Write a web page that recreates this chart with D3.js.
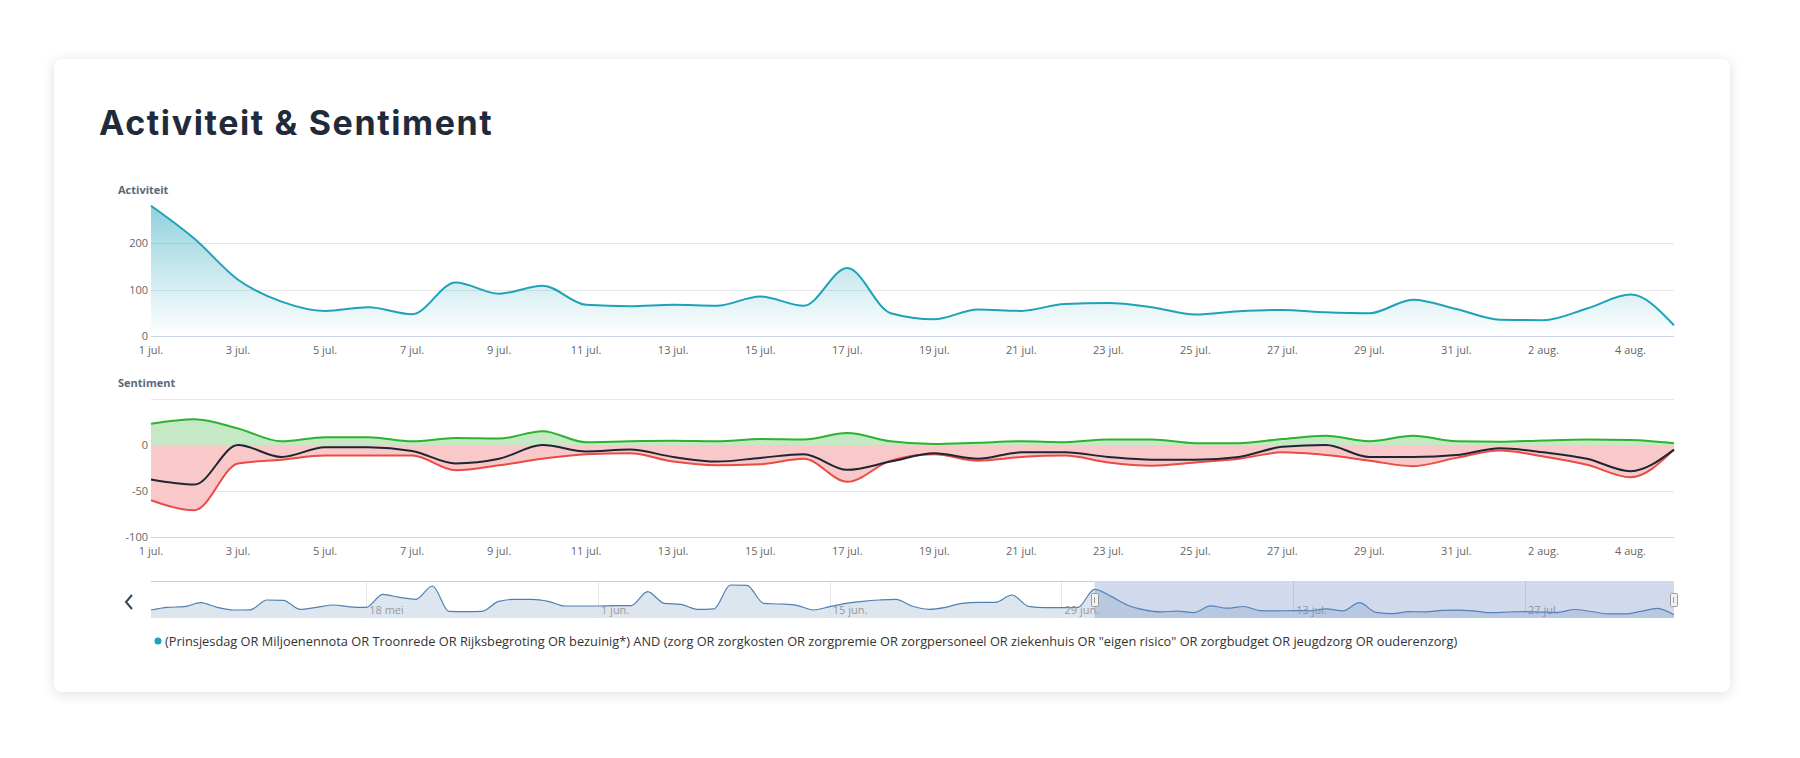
<!DOCTYPE html>
<html>
<head>
<meta charset="utf-8">
<script src="https://cdn.jsdelivr.net/npm/d3@7"></script>
<style>
  html, body { margin: 0; padding: 0; background: #fff; width: 1800px; height: 758px; overflow: hidden; }
  #card {
    position: absolute; left: 54px; top: 59px; width: 1676px; height: 633px;
    background: #fff; border-radius: 8px;
    box-shadow: 0 2px 14px rgba(0, 0, 0, 0.13);
  }
  #chart { position: absolute; left: 0; top: 0; }
</style>
</head>
<body>
<div id="card"></div>
<div id="chart"></div>
<script>
// ========== Data ==========
const startDate = "2020-07-01";          // first day in main charts
const navStartDate = "2020-05-05";       // first day in the navigator

// Activiteit, 1 jul. .. 5 aug.
const activity = [280, 209, 121, 74, 54, 62, 47, 115, 91, 108, 67, 64, 67, 65, 85, 65, 146, 49,
                  36, 57, 54, 69, 71, 62, 46, 53, 56, 51, 49, 78, 58, 35, 34, 59, 89, 23];

// Sentiment series, 1 jul. .. 5 aug.
const positive = [23, 28, 18, 4, 8.5, 8.5, 4, 7.5, 7, 15, 3, 4, 4.5, 4, 6.5, 6, 13, 4,
                  1, 2.5, 4, 3, 6, 6, 2, 2, 6.5, 10, 4, 10, 4, 3.5, 5, 6, 5.5, 2];
const negative = [-60, -71, -20, -16, -11.5, -11.5, -11.5, -27.5, -22, -15, -10, -9, -18, -22, -21, -15, -40, -17,
                  -10, -17, -13, -11.5, -19, -22.5, -19, -15, -8, -11, -17, -23, -14, -6, -12.5, -21.5, -35, -5];
const net = [-37.5, -43, 0, -13, -2.5, -2.5, -6.5, -20, -15, 0, -7, -5, -13, -18, -14, -10, -27, -18,
             -9, -15, -8, -8, -13, -16, -16, -13, -2, 0, -13, -13, -11, -3.5, -8, -15, -28.5, -5];

// Navigator history, 5 mei .. 30 jun. (activity continues after that)
const navHistory = [73, 100, 106, 146, 100, 73, 75, 173, 170, 80, 100, 123, 105, 100, 230, 200, 180, 313,
                    60, 56, 60, 160, 180, 180, 160, 113, 113, 113, 116, 116, 257, 140, 130, 80, 85, 323,
                    320, 140, 133, 120, 73, 106, 140, 160, 173, 180, 110, 80, 100, 140, 150, 150, 223,
                    110, 96, 96, 100];

const activityTicks = [0, 100, 200];
const sentimentTicks = [50, 0, -50, -100];
const sentimentLabels = ["", "0", "-50", "-100"];
const navTicks = ["2020-05-18", "2020-06-01", "2020-06-15", "2020-06-29", "2020-07-13", "2020-07-27"];
const monthsNl = ["jan.", "feb.", "mrt.", "apr.", "mei", "jun.", "jul.", "aug.", "sep.", "okt.", "nov.", "dec."];

const legendText = '(Prinsjesdag OR Miljoenennota OR Troonrede OR Rijksbegroting OR bezuinig*) AND (zorg OR zorgkosten OR zorgpremie OR zorgpersoneel OR ziekenhuis OR "eigen risico" OR zorgbudget OR jeugdzorg OR ouderenzorg)';

// ========== Helpers ==========
const parse = d3.utcParse("%Y-%m-%d");
const fmtNl = d => `${d.getUTCDate()} ${monthsNl[d.getUTCMonth()]}`;

const day0 = parse(startDate);
const days = activity.map((_, i) => d3.utcDay.offset(day0, i));
const navDay0 = parse(navStartDate);
const navValues = navHistory.concat(activity);
const navDays = navValues.map((_, i) => d3.utcDay.offset(navDay0, i));

// ========== Layout ==========
const W = 1800, H = 758;
const left = 151, right = 1674;

const svg = d3.select("#chart").append("svg")
    .attr("width", W).attr("height", H)
    .style("font-family", "'Open Sans', sans-serif");

const defs = svg.append("defs");
const grad = defs.append("linearGradient")
    .attr("id", "actGrad").attr("x1", 0).attr("y1", 0).attr("x2", 0).attr("y2", 1);
grad.append("stop").attr("offset", "0%").attr("stop-color", "#22a3ba").attr("stop-opacity", 0.5);
grad.append("stop").attr("offset", "100%").attr("stop-color", "#22a3ba").attr("stop-opacity", 0.0);

// Title
svg.append("text")
    .attr("x", 99).attr("y", 135)
    .attr("font-family", "Inter, 'Open Sans', sans-serif")
    .attr("font-weight", 700).attr("font-size", 34)
    .attr("letter-spacing", 1.6)
    .attr("fill", "#1f2b3a")
    .text("Activiteit & Sentiment");

const x = d3.scaleUtc()
    .domain([days[0], days[days.length - 1]])
    .range([left, right]);
const xTicks = d3.utcDay.range(days[0], d3.utcDay.offset(days[days.length - 1], 1), 2);

function drawXAxis(g, yPos) {
    g.append("line")
        .attr("x1", left).attr("x2", right)
        .attr("y1", yPos + 0.5).attr("y2", yPos + 0.5)
        .attr("stroke", "#ccd6eb");
    g.selectAll(".xl").data(xTicks).enter().append("text")
        .attr("x", d => x(d)).attr("y", yPos + 18)
        .attr("text-anchor", "middle")
        .attr("font-size", 11).attr("fill", "#666")
        .text(fmtNl);
}

// ========== Activiteit ==========
const yA = d3.scaleLinear().domain([0, 300]).range([336, 196.5]);
const gA = svg.append("g");

gA.append("text").attr("x", 118).attr("y", 194)
    .attr("font-size", 11).attr("font-weight", 700).attr("fill", "#5b6878")
    .text("Activiteit");

gA.selectAll(".grid").data(activityTicks.filter(t => t > 0)).enter().append("line")
    .attr("x1", left).attr("x2", right)
    .attr("y1", d => Math.round(yA(d)) + 0.5).attr("y2", d => Math.round(yA(d)) + 0.5)
    .attr("stroke", "#e6e6e6");
gA.selectAll(".yl").data(activityTicks).enter().append("text")
    .attr("x", 148).attr("y", d => yA(d) + 4)
    .attr("text-anchor", "end").attr("font-size", 11).attr("fill", "#666")
    .text(d => d);

gA.append("path").datum(activity)
    .attr("fill", "url(#actGrad)")
    .attr("d", d3.area().x((d, i) => x(days[i])).y0(yA(0)).y1(d => yA(d)).curve(d3.curveMonotoneX));
drawXAxis(gA, 336);
gA.append("path").datum(activity)
    .attr("fill", "none").attr("stroke", "#1fa2b8").attr("stroke-width", 2)
    .attr("d", d3.line().x((d, i) => x(days[i])).y(d => yA(d)).curve(d3.curveMonotoneX));

// ========== Sentiment ==========
const yS = d3.scaleLinear().domain([-100, 50]).range([537, 399]);
const gS = svg.append("g");

gS.append("text").attr("x", 118).attr("y", 387)
    .attr("font-size", 11).attr("font-weight", 700).attr("fill", "#5b6878")
    .text("Sentiment");

gS.selectAll(".grid").data(sentimentTicks.filter(t => t > -100)).enter().append("line")
    .attr("x1", left).attr("x2", right)
    .attr("y1", d => Math.round(yS(d)) + 0.5).attr("y2", d => Math.round(yS(d)) + 0.5)
    .attr("stroke", "#e6e6e6");
gS.selectAll(".yl").data(sentimentTicks).enter().append("text")
    .attr("x", 148).attr("y", d => yS(d) + 4)
    .attr("text-anchor", "end").attr("font-size", 11).attr("fill", "#666")
    .text((d, i) => sentimentLabels[i]);

const areaS = d3.area().x((d, i) => x(days[i])).y0(yS(0)).y1(d => yS(d)).curve(d3.curveMonotoneX);
const lineS = d3.line().x((d, i) => x(days[i])).y(d => yS(d)).curve(d3.curveMonotoneX);

gS.append("path").datum(positive).attr("fill", "#c4e9c4").attr("d", areaS);
gS.append("path").datum(negative).attr("fill", "#f9c9c9").attr("d", areaS);
drawXAxis(gS, 537);
gS.append("path").datum(positive).attr("fill", "none").attr("stroke", "#2cb22c").attr("stroke-width", 2).attr("d", lineS);
gS.append("path").datum(negative).attr("fill", "none").attr("stroke", "#ec4a45").attr("stroke-width", 2).attr("d", lineS);
gS.append("path").datum(net).attr("fill", "none").attr("stroke", "#1e2533").attr("stroke-width", 2).attr("d", lineS);

// ========== Navigator ==========
const navTop = 581, navBottom = 618;
const xN = d3.scaleUtc()
    .domain([navDays[0], navDays[navDays.length - 1]])
    .range([left, right]);
const yN = d3.scaleLinear().domain(d3.extent(navValues)).range([615, 585]);
const gN = svg.append("g");

gN.selectAll(".ng").data(navTicks.map(parse)).enter().append("line")
    .attr("x1", d => Math.round(xN(d)) + 0.5).attr("x2", d => Math.round(xN(d)) + 0.5)
    .attr("y1", navTop).attr("y2", navBottom)
    .attr("stroke", "#e6e6e6");

gN.append("path").datum(navValues)
    .attr("fill", "#d9e2ec").attr("fill-opacity", 0.9)
    .attr("d", d3.area().x((d, i) => xN(navDays[i])).y0(navBottom).y1(d => yN(d)).curve(d3.curveMonotoneX));
gN.append("path").datum(navValues)
    .attr("fill", "none").attr("stroke", "#4f80b3").attr("stroke-width", 1.2)
    .attr("d", d3.line().x((d, i) => xN(navDays[i])).y(d => yN(d)).curve(d3.curveMonotoneX));

gN.selectAll(".nl").data(navTicks.map(parse)).enter().append("text")
    .attr("x", d => xN(d) + 3).attr("y", 614)
    .attr("font-size", 11).attr("fill", "#999")
    .text(fmtNl);

// selected range mask
const selX0 = xN(days[0]), selX1 = xN(days[days.length - 1]);
gN.append("rect")
    .attr("x", selX0).attr("y", navTop).attr("width", selX1 - selX0).attr("height", navBottom - navTop)
    .attr("fill", "rgba(102,133,194,0.3)");
gN.append("line")
    .attr("x1", left).attr("x2", selX0).attr("y1", navTop + 0.5).attr("y2", navTop + 0.5)
    .attr("stroke", "#cccccc");

// handles
[selX0, selX1].forEach(hx => {
    gN.append("rect")
        .attr("x", Math.round(hx) - 3.5).attr("y", 593.5).attr("width", 7).attr("height", 13)
        .attr("fill", "#f2f2f2").attr("stroke", "#999").attr("rx", 1);
    gN.append("line")
        .attr("x1", Math.round(hx) - 0.5).attr("x2", Math.round(hx) - 0.5)
        .attr("y1", 597).attr("y2", 603)
        .attr("stroke", "#999");
});

// back arrow
svg.append("path")
    .attr("d", "M132,595 L126,602 L132,609")
    .attr("fill", "none").attr("stroke", "#34495e").attr("stroke-width", 2);

// ========== Legend ==========
svg.append("circle").attr("cx", 158).attr("cy", 641).attr("r", 3.5).attr("fill", "#1fa2b8");
svg.append("text")
    .attr("x", 165).attr("y", 645.5)
    .attr("font-size", 12.8).attr("fill", "#333")
    .text(legendText);
</script>
</body>
</html>
